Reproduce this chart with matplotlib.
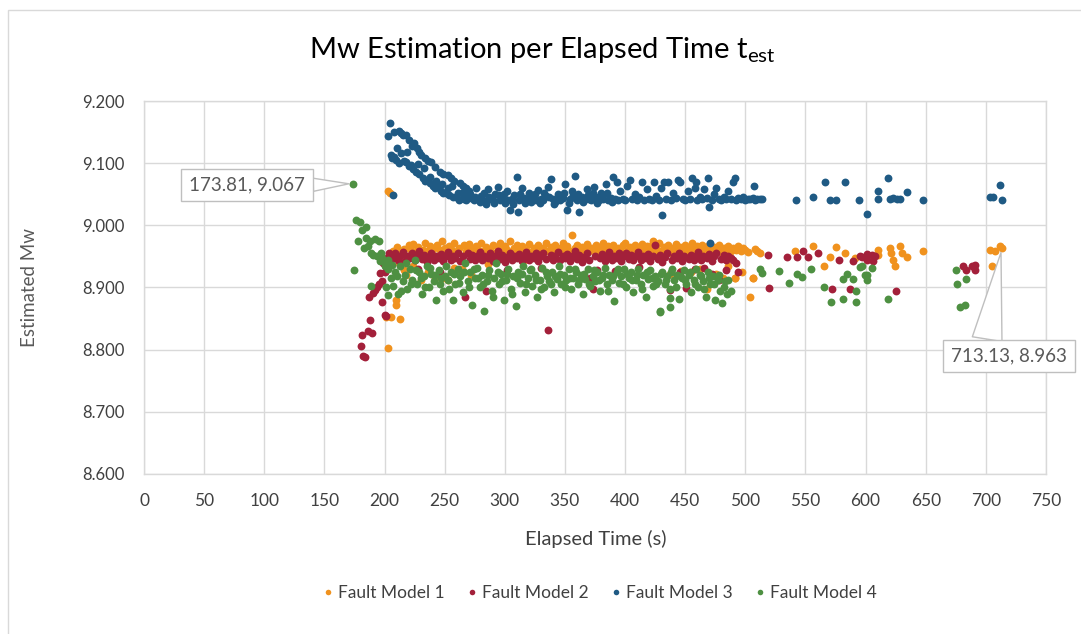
import matplotlib
matplotlib.use("Agg")
import matplotlib.pyplot as plt
from matplotlib.lines import Line2D
from matplotlib.patches import Rectangle

# ---------------- data ----------------
series_names = ["Fault Model 1", "Fault Model 2", "Fault Model 3", "Fault Model 4"]
series_colors = ["#F0921E", "#A3203A", "#1F5A84", "#4E9042"]

x_ticks = [0, 50, 100, 150, 200, 250, 300, 350, 400, 450, 500, 550, 600, 650, 700, 750]
y_ticks = [8.6, 8.7, 8.8, 8.9, 9.0, 9.1, 9.2]

# Fault Model 3 (blue)
fm3_x = [202.9, 204.3, 205.0, 207.0, 208.0, 211.7, 213.5, 215.0, 217.6, 220.0, 224.5, 227.0, 229.0, 230.6,
         234.0, 236.0, 239.0, 242.0, 245.9, 249.0, 252.8, 255.6, 258.0, 262.5, 265.0, 268.0,
         206.0, 208.0, 209.8, 212.0, 214.0, 216.0, 218.0, 220.0, 222.0, 224.0, 226.5, 229.0, 232.0, 234.0,
         237.5, 240.0, 242.0, 244.4, 247.0, 249.0, 251.4, 254.0, 257.0, 259.8,
         262, 264, 266, 268, 270, 272, 274, 276, 278, 280, 282, 284, 286, 288, 290, 292, 294, 296, 298, 300,
         302, 304, 306, 308, 310, 311, 312, 314, 316, 318, 320, 322, 324, 326, 328, 330, 332, 334, 336, 338,
         340, 342, 344, 346, 348, 350, 352, 354, 356, 358, 360, 362, 364, 366, 368, 370, 372, 374, 376, 378,
         380, 382, 384, 386, 388, 390, 392, 393, 394, 396, 398, 400, 402, 404, 406, 408, 410, 412, 414, 416,
         418, 420, 422, 424, 426, 428, 430, 431, 432, 434, 436, 438, 440, 442, 444, 446, 448, 450, 452, 454,
         456, 458, 459, 460, 462, 464, 466, 468, 469, 470, 472, 474, 476, 478, 480, 482, 484, 486, 488, 490,
         491, 492, 494, 496, 498, 500, 502, 504, 506, 507, 508, 510, 512, 514,
         470.5, 541.8, 556.5, 566.2, 570.3, 575.3, 582.8, 594.7, 600.9, 610.5, 610.5, 618.8, 620.0, 622.7,
         625.8, 628.6, 634.1, 648.0, 703.5, 706.2, 711.8, 713.2,
         210.5, 219.0, 223.0, 228.0, 233.0, 238.0, 243.0, 248.0, 253.0, 256.5, 261.0, 266.0, 271.0, 275.0,
         279.0, 283.0, 287.0, 291.0, 295.0, 299.0, 303.0, 307.0, 313.0, 317.0, 321.0, 325.0, 329.0, 333.0,
         337.0, 341.0, 345.0, 349.0, 353.0, 357.0, 361.0, 365.0, 369.0, 373.0, 377.0, 381.0, 385.0, 389.0]
fm3_y = [9.143, 9.165, 9.113, 9.049, 9.150, 9.151, 9.148, 9.146, 9.145, 9.138, 9.132, 9.124, 9.118, 9.113,
         9.108, 9.104, 9.102, 9.094, 9.086, 9.083, 9.081, 9.076, 9.072, 9.068, 9.064, 9.060,
         9.108, 9.110, 9.105, 9.100, 9.116, 9.104, 9.102, 9.096, 9.097, 9.090, 9.086, 9.082, 9.076, 9.071,
         9.068, 9.064, 9.060, 9.062, 9.056, 9.052, 9.052, 9.048, 9.046, 9.046,
         9.041, 9.052, 9.043, 9.040, 9.056, 9.044, 9.041, 9.060, 9.042, 9.047,
         9.040, 9.035, 9.058, 9.043, 9.041, 9.050, 9.062, 9.040, 9.044, 9.036,
         9.055, 9.025, 9.042, 9.048, 9.078, 9.022, 9.041, 9.060, 9.044, 9.040,
         9.052, 9.038, 9.045, 9.041, 9.057, 9.043, 9.040, 9.047, 9.062, 9.074,
         9.042, 9.038, 9.050, 9.041, 9.044, 9.066, 9.025, 9.042, 9.055, 9.079,
         9.041, 9.022, 9.046, 9.040, 9.058, 9.043, 9.041, 9.062, 9.045, 9.040,
         9.052, 9.042, 9.066, 9.041, 9.044, 9.078, 9.042, 9.070, 9.040, 9.055,
         9.043, 9.041, 9.064, 9.073, 9.042, 9.050, 9.040, 9.045, 9.069, 9.041,
         9.058, 9.043, 9.040, 9.069, 9.047, 9.041, 9.060, 9.016, 9.069, 9.043,
         9.069, 9.041, 9.052, 9.044, 9.073, 9.069, 9.042, 9.040, 9.055, 9.043,
         9.076, 9.060, 9.069, 9.041, 9.045, 9.042, 9.058, 9.044, 9.076, 9.029,
         9.041, 9.050, 9.060, 9.043, 9.041, 9.046, 9.042, 9.055, 9.043, 9.069,
         9.076, 9.041, 9.044, 9.042, 9.045, 9.041, 9.043, 9.042, 9.044, 9.063,
         9.041, 9.043, 9.042, 9.042,
         8.971, 9.041, 9.045, 9.070, 9.041, 9.041, 9.069, 9.041, 9.019, 9.056, 9.042, 9.076, 9.043, 9.044,
         9.042, 9.042, 9.054, 9.041, 9.046, 9.046, 9.065, 9.041,
         9.125, 9.118, 9.128, 9.098, 9.092, 9.078, 9.072, 9.066, 9.060, 9.064, 9.052, 9.048, 9.050, 9.046,
         9.038, 9.052, 9.046, 9.036, 9.048, 9.050, 9.040, 9.034, 9.050, 9.036, 9.046, 9.050, 9.036, 9.052,
         9.046, 9.034, 9.046, 9.052, 9.036, 9.048, 9.050, 9.037, 9.048, 9.052, 9.036, 9.047, 9.052, 9.038]

# Fault Model 1 (orange)
fm1_x = [202.9, 204.3, 202.9, 205.6, 212.6, 209.8, 209.3, 201.5,
         205, 207, 210, 212, 214, 216, 218, 220, 222, 224, 226, 228, 230, 232, 234, 236, 238, 240, 242, 244,
         246, 248, 250, 252, 254, 256, 258, 260, 262, 264, 266, 268, 270, 272, 274, 276, 278, 280, 282, 284,
         286, 288, 290, 292, 294, 296, 298, 300, 302, 304, 306, 308, 310, 312, 314, 316, 318, 320, 322, 324,
         326, 328, 330, 332, 334, 336, 338, 340, 342, 344, 346, 348, 350, 352, 354, 356, 358, 360, 362, 364,
         366, 368, 370, 372, 374, 376, 378, 380, 382, 384, 386, 388, 390, 392, 394, 396, 398, 400, 402, 404,
         406, 408, 410, 412, 414, 416, 418, 420, 422, 424, 426, 428, 430, 432, 434, 436, 438, 440, 442, 444,
         446, 448, 450, 452, 454, 456, 458, 460, 462, 464, 466, 468, 470, 472, 474, 476, 478, 480, 482, 484,
         486, 488, 490, 491, 492, 494, 496, 498, 500, 502, 504, 506, 508, 510, 512,
         248.6, 252.8, 262.5, 423.3, 437.2, 446.1, 468.3, 481.6, 491.3, 506.5,
         541.2, 556.5, 565.3, 570.3, 575.3, 582.8, 591.1, 610.5, 610.5, 620.0, 621.4, 622.7, 624.4,
         628.6, 630.0, 634.1, 648.0, 703.5, 707.6, 711.8, 713.13, 704.9,
         216, 224, 236, 258, 272, 455, 462, 476, 486, 497]
fm1_y = [9.056, 9.052, 8.802, 8.852, 8.849, 8.880, 8.872, 8.853,
         8.945, 8.958, 8.965, 8.940, 8.955, 8.962, 8.920, 8.968, 8.960, 8.970, 8.957, 8.965, 8.912, 8.961,
         8.972, 8.958, 8.966, 8.962, 8.915, 8.969, 8.960, 8.975, 8.963, 8.958, 8.967, 8.960, 8.972, 8.957,
         8.964, 8.930, 8.968, 8.959, 8.970, 8.962, 8.957, 8.966, 8.960, 8.971, 8.958, 8.965, 8.938, 8.961,
         8.968, 8.956, 8.964, 8.972, 8.959, 8.966, 8.960, 8.975, 8.957, 8.963, 8.969, 8.958, 8.966, 8.945,
         8.961, 8.970, 8.957, 8.964, 8.960, 8.968, 8.956, 8.963, 8.972, 8.958, 8.965, 8.961, 8.969, 8.957,
         8.963, 8.972, 8.960, 8.966, 8.958, 8.985, 8.963, 8.969, 8.957, 8.965, 8.960, 8.970, 8.958, 8.964,
         8.961, 8.968, 8.956, 8.963, 8.971, 8.959, 8.966, 8.961, 8.969, 8.957, 8.964, 8.960, 8.968, 8.972,
         8.958, 8.965, 8.961, 8.969, 8.957, 8.963, 8.970, 8.959, 8.966, 8.960, 8.968, 8.957, 8.964, 8.971,
         8.958, 8.965, 8.961, 8.969, 8.956, 8.963, 8.970, 8.958, 8.965, 8.960, 8.968, 8.957, 8.964, 8.972,
         8.959, 8.966, 8.961, 8.969, 8.957, 8.963, 8.968, 8.958, 8.965, 8.961, 8.969, 8.957, 8.964, 8.960,
         8.967, 8.958, 8.963, 8.916, 8.960, 8.966, 8.958, 8.963, 8.960, 8.957, 8.885, 8.916, 8.962, 8.958,
         8.955,
         8.915, 8.912, 8.922, 8.974, 8.922, 8.926, 8.897, 8.916, 8.916, 8.916,
         8.959, 8.967, 8.934, 8.949, 8.965, 8.955, 8.947, 8.960, 8.952, 8.963, 8.955, 8.945, 8.934,
         8.966, 8.955, 8.949, 8.958, 8.961, 8.958, 8.966, 8.963, 8.934,
         8.928, 8.935, 8.925, 8.932, 8.920, 8.925, 8.930, 8.922, 8.935, 8.925]

# Fault Model 2 (red)
fm2_x = [180.7, 181.5, 182.5, 184.0, 186.0, 187.6, 189.5, 187.0, 190.4, 191.8, 193.7, 197.9, 200.9,
         196.5, 200.1, 203.7, 199.0, 202.0, 195.0, 198.0, 200.1,
         205, 207, 209, 211, 213, 215, 217, 219, 221, 223, 225, 227, 229, 231, 233, 235, 237, 239, 241, 243,
         245, 247, 249, 251, 253, 255, 257, 259, 261, 263, 265, 267, 269, 271, 273, 275, 277, 279, 281, 283,
         284, 286, 288, 290, 292, 294, 296, 298, 300, 302, 304, 306, 308, 310, 312, 314, 316, 318, 320, 322,
         324, 326, 328, 330, 332, 334, 336, 338, 340, 342, 344, 346, 348, 350, 352, 354, 356, 358, 360, 362,
         364, 366, 368, 370, 371, 373, 375, 377, 379, 381, 383, 385, 387, 389, 391, 393, 395, 397, 399, 401,
         403, 405, 407, 409, 411, 413, 415, 417, 419, 421, 423, 425, 427, 429, 431, 433, 435, 437, 439, 441,
         443, 445, 447, 449, 451, 453, 455, 457, 459, 461, 463, 465, 466, 468, 470, 472, 474, 476, 478, 480,
         482, 484, 486, 488, 490, 492, 494,
         518.5, 519.8, 534.3, 542.6, 548.1, 552.3, 560.6, 571.7, 578.0, 587.0, 589.7, 596.7, 600.9,
         595.3, 600.9, 605.0, 607.8, 606.4, 625.2, 681.2, 683.4, 688.2, 690.9, 690.9,
         228, 246, 302, 330, 392, 412, 446, 458, 472, 484]
fm2_y = [8.806, 8.824, 8.790, 8.788, 8.830, 8.848, 8.827, 8.885, 8.891, 8.896, 8.900, 8.876, 8.854,
         8.923, 8.925, 8.955, 8.940, 8.948, 8.905, 8.910, 8.856,
         8.952, 8.948, 8.955, 8.945, 8.950, 8.957, 8.943, 8.951, 8.947, 8.955, 8.944, 8.950, 8.958, 8.946,
         8.952, 8.941, 8.949, 8.956, 8.944, 8.951, 8.947, 8.954, 8.943, 8.950, 8.957, 8.945, 8.951, 8.947,
         8.955, 8.942, 8.950, 8.885, 8.956, 8.946, 8.952, 8.944, 8.950, 8.957, 8.945, 8.951,
         8.895, 8.948, 8.955, 8.943, 8.950, 8.958, 8.946, 8.952, 8.941, 8.949, 8.956, 8.944, 8.951, 8.947,
         8.954, 8.943, 8.950, 8.957, 8.945, 8.951, 8.947, 8.955, 8.942, 8.950, 8.956, 8.946, 8.831, 8.952,
         8.944, 8.950, 8.957, 8.945, 8.951, 8.947, 8.954, 8.943, 8.950, 8.958, 8.946, 8.952,
         8.941, 8.949, 8.956, 8.944, 8.916, 8.897, 8.951, 8.928, 8.947, 8.954, 8.943, 8.950, 8.957, 8.945,
         8.951, 8.947, 8.955, 8.942, 8.950, 8.956, 8.946, 8.952, 8.944, 8.950, 8.957, 8.945, 8.951, 8.947,
         8.954, 8.943, 8.950, 8.968, 8.946, 8.952, 8.941, 8.949, 8.956, 8.896, 8.944, 8.951,
         8.947, 8.955, 8.942, 8.950, 8.899, 8.946, 8.952, 8.944, 8.950, 8.957, 8.945, 8.951, 8.931, 8.947,
         8.954, 8.943, 8.950, 8.956, 8.912, 8.946, 8.952, 8.944, 8.950, 8.947, 8.944, 8.940, 8.925,
         8.952, 8.899, 8.949, 8.949, 8.958, 8.949, 8.956, 8.897, 8.945, 8.897, 8.942, 8.949, 8.954,
         8.950, 8.944, 8.952, 8.950, 8.942, 8.895, 8.934, 8.928, 8.934, 8.936, 8.928,
         8.930, 8.925, 8.928, 8.932, 8.927, 8.933, 8.925, 8.930, 8.922, 8.928]

# Fault Model 4 (green)
fm4_x = [173.81, 174.6, 176.0, 179.3, 181.5, 184.9, 177.9, 184.3, 187.6, 191.8, 195.4, 182.6, 186.2,
         188.4, 190.4, 193.7, 195.9, 198.2, 201.5, 189.0, 201.5, 202.8, 197.0, 199.0, 200.0, 203.0,
         203, 205, 207, 209, 211, 213, 215, 217, 219, 221, 223, 225, 227, 229, 231, 233, 235, 237, 239, 241,
         243, 245, 247, 249, 251, 253, 255, 257, 259, 261, 263, 265, 267, 269, 271, 273, 275, 277, 279, 281,
         283, 285, 287, 289, 291, 293, 295, 297, 299, 301, 303, 305, 307, 309, 311, 313, 315, 317, 319, 321,
         323, 325, 327, 329, 331, 333, 335, 337, 339, 341, 343, 345, 347, 349, 351, 353, 355, 357, 359, 361,
         363, 365, 367, 369, 371, 373, 375, 377, 379, 381, 383, 385, 387, 389, 391, 393, 395, 397, 399, 401,
         403, 405, 407, 409, 411, 413, 415, 417, 419, 421, 423, 425, 427, 429, 431, 433, 435, 437, 439, 441,
         443, 445, 447, 449, 451, 453, 455, 457, 459, 461, 463, 465, 467, 469, 471, 473, 475, 477, 479, 481,
         483, 485, 428.9, 437.2, 437.5,
         512.0, 513.5, 527.9, 536.5, 542.6, 546.8, 554.3, 565.3, 570.9, 580.9, 584.3, 581.4, 589.7, 592.0,
         592.0, 595.3, 600.9, 600.9, 596.7, 605.0, 599.5, 618.8, 675.4, 675.8, 683.4, 678.5, 682.7]
fm4_y = [9.067, 8.928, 9.008, 9.006, 8.993, 8.998, 8.974, 8.979, 8.974, 8.978, 8.974, 8.963, 8.966,
         8.955, 8.952, 8.950, 8.942, 8.947, 8.939, 8.903, 8.901, 8.888, 8.955, 8.945, 8.935, 8.945,
         8.930, 8.915, 8.902, 8.925, 8.890, 8.935, 8.910, 8.920, 8.898, 8.930, 8.912, 8.945, 8.905, 8.925,
         8.890, 8.918, 8.935, 8.900, 8.922, 8.910, 8.880, 8.928, 8.915, 8.895, 8.935, 8.912, 8.925, 8.880,
         8.905, 8.930, 8.918, 8.892, 8.940, 8.910, 8.925, 8.872, 8.915, 8.932, 8.900, 8.920, 8.862, 8.910,
         8.928, 8.895, 8.915, 8.940, 8.905, 8.922, 8.880, 8.912, 8.930, 8.898, 8.918, 8.870, 8.925, 8.908,
         8.935, 8.892, 8.915, 8.928, 8.902, 8.920, 8.885, 8.912, 8.932, 8.900, 8.918, 8.910, 8.925, 8.893,
         8.914, 8.935, 8.905, 8.920, 8.912, 8.930, 8.898, 8.916, 8.925, 8.905, 8.920, 8.890, 8.914, 8.930,
         8.902, 8.918, 8.910, 8.925, 8.895, 8.915, 8.932, 8.905, 8.920, 8.912, 8.878, 8.925, 8.908, 8.918,
         8.930, 8.900, 8.915, 8.925, 8.893, 8.912, 8.930, 8.905, 8.920, 8.885, 8.914, 8.928, 8.902, 8.918,
         8.910, 8.862, 8.925, 8.905, 8.918, 8.898, 8.930, 8.912, 8.920, 8.882, 8.915, 8.928, 8.905, 8.920,
         8.893, 8.912, 8.930, 8.900, 8.918, 8.910, 8.885, 8.925, 8.905, 8.918, 8.880, 8.912, 8.895, 8.875,
         8.910, 8.890, 8.861, 8.869, 8.883,
         8.929, 8.923, 8.927, 8.907, 8.922, 8.917, 8.929, 8.900, 8.877, 8.913, 8.922, 8.881, 8.913, 8.895,
         8.877, 8.933, 8.920, 8.912, 8.934, 8.931, 8.920, 8.881, 8.928, 8.905, 8.914, 8.869, 8.872]
# second, interleaved sampling of Fault Model 4 in the dense band
fm4_dense_x = [206, 210, 214, 218, 222, 226, 230, 234, 238, 242,
               246, 250, 254, 258, 262, 266, 270, 274, 278, 282,
               286, 290, 294, 298, 302, 306, 310, 314, 318, 322,
               326, 330, 334, 338, 342, 346, 350, 354, 358, 362,
               366, 370, 374, 378, 382, 386, 390, 394, 398, 402,
               406, 410, 414, 418, 422, 426, 430, 434, 438, 442,
               446, 450, 454, 458, 462, 466, 470, 474, 478, 482,
               486, 488]
fm4_dense_y = [8.936, 8.918, 8.895, 8.940, 8.905, 8.928, 8.915, 8.900, 8.932, 8.920,
               8.905, 8.918, 8.898, 8.922, 8.908, 8.925, 8.900, 8.930, 8.915, 8.905,
               8.920, 8.885, 8.925, 8.910, 8.922, 8.890, 8.915, 8.922, 8.905, 8.930,
               8.912, 8.898, 8.925, 8.905, 8.918, 8.922, 8.900, 8.915, 8.930, 8.912,
               8.922, 8.905, 8.928, 8.912, 8.920, 8.895, 8.918, 8.930, 8.905, 8.922,
               8.912, 8.920, 8.898, 8.925, 8.915, 8.905, 8.922, 8.912, 8.925, 8.900,
               8.918, 8.912, 8.925, 8.905, 8.920, 8.898, 8.915, 8.905, 8.920, 8.900,
               8.912, 8.895]
fm4_x = fm4_x + fm4_dense_x
fm4_y = fm4_y + fm4_dense_y

series_x = [fm1_x, fm2_x, fm3_x, fm4_x]
series_y = [fm1_y, fm2_y, fm3_y, fm4_y]
for sx, sy in zip(series_x, series_y):
    assert len(sx) == len(sy), (len(sx), len(sy))

# annotations (data labels)
label_points = [(173.81, 9.067), (713.13, 8.963)]

# ---------------- styling ----------------
FONT = ['Lato', 'DejaVu Sans']
plt.rcParams['font.family'] = FONT
plt.rcParams['mathtext.fontset'] = 'custom'
plt.rcParams['mathtext.rm'] = 'Lato'

W, H = 1081, 634
fig = plt.figure(figsize=(W / 100, H / 100), dpi=100)
fig.patch.set_facecolor('white')

# chart-area border
fig.patches.append(Rectangle((8 / W, -0.01), 1.1, 1 - 10 / H + 0.01, transform=fig.transFigure,
                             fill=False, edgecolor='#d9d9d9', linewidth=1.0))

ax = fig.add_axes([144 / W, 1 - 474 / H, (1046 - 144) / W, (474 - 101) / H])
ax.set_xlim(0, 750)
ax.set_ylim(8.6, 9.2)
ax.set_xticks(x_ticks)
ax.set_yticks(y_ticks)
ax.set_yticklabels([f"{v:.3f}" for v in y_ticks])
ax.tick_params(axis='x', length=0, pad=14, labelsize=12.5, colors='#404040')
ax.tick_params(axis='y', length=0, pad=14, labelsize=12, colors='#404040')
ax.grid(True, color='#d9d9d9', linewidth=1.0)
ax.set_axisbelow(True)
for s in ax.spines.values():
    s.set_color('#d9d9d9')
    s.set_linewidth(1.0)

for i, (sx, sy) in enumerate(zip(series_x, series_y)):
    ax.scatter(sx, sy, s=32, color=series_colors[i], linewidths=0, zorder=3 + i)

# data-label callouts
ann_style = dict(fontsize=13.5, color='#595959',
                 bbox=dict(boxstyle='square,pad=0.42', fc='white', ec='#bfbfbf', lw=1.0))
p1 = label_points[0]
ax.annotate(f"{p1[0]:.2f}, {p1[1]:.3f}", xy=p1, xycoords='data',
            xytext=(247 / W, 1 - 185 / H), textcoords='figure fraction',
            ha='center', va='center', zorder=10,
            arrowprops=dict(arrowstyle='wedge,tail_width=0.7', fc='white', ec='#bfbfbf', lw=1.0,
                            shrinkA=0, shrinkB=3, relpos=(1.0, 0.5)),
            **ann_style)
p2 = label_points[1]
ax.annotate(f"{p2[0]:.2f}, {p2[1]:.3f}", xy=p2, xycoords='data',
            xytext=(1009 / W, 1 - 356 / H), textcoords='figure fraction',
            ha='center', va='center', zorder=10, annotation_clip=False,
            arrowprops=dict(arrowstyle='wedge,tail_width=1.6', fc='white', ec='#bfbfbf', lw=1.0,
                            shrinkA=0, shrinkB=3, relpos=(0.3, 1.0)),
            **ann_style)

# titles and labels
fig.text(542 / W, 1 - 50 / H, r"Mw Estimation per Elapsed Time t$_{\mathregular{est}}$",
         ha='center', va='center', fontsize=21, color='#000000')
fig.text(30 / W, 1 - 287 / H, "Estimated Mw", rotation=90, ha='center', va='center',
         fontsize=13.5, color='#595959')
fig.text(596 / W, 1 - 539 / H, "Elapsed Time (s)", ha='center', va='center',
         fontsize=14.5, color='#404040')

handles = [Line2D([], [], linestyle='none', marker='o', markersize=4, color=c, markeredgewidth=0)
           for c in series_colors]
fig.legend(handles, series_names, loc='center', bbox_to_anchor=(599 / W, 1 - 593 / H), ncol=4,
           frameon=False, fontsize=12.5, handletextpad=0.15, columnspacing=1.2, handlelength=0.8,
           labelcolor='#404040')

fig.savefig("out.png", dpi=100, facecolor='white')
